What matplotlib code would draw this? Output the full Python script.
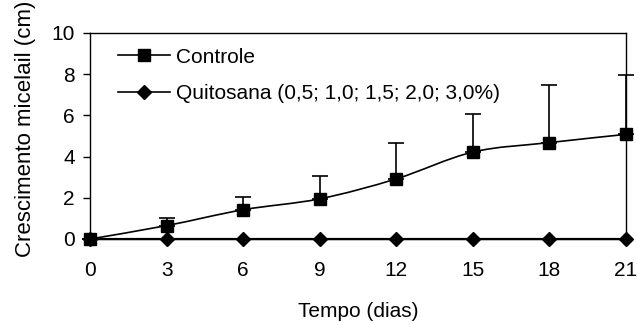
import numpy as np
import matplotlib.pyplot as plt
from matplotlib.path import Path
from matplotlib.patches import PathPatch
from matplotlib.lines import Line2D

plt.rcParams['font.family'] = ['Liberation Sans', 'DejaVu Sans']

dias = [0, 3, 6, 9, 12, 15, 18, 21]
controle = [0.0, 0.65, 1.42, 1.95, 2.92, 4.22, 4.68, 5.08]
controle_erro = [0.0, 0.35, 0.62, 1.12, 1.72, 1.85, 2.78, 2.87]
quitosana = [0, 0, 0, 0, 0, 0, 0, 0]

rotulo_controle = 'Controle'
rotulo_quitosana = 'Quitosana (0,5; 1,0; 1,5; 2,0; 3,0%)'


def smooth_path(x, y):
    # Excel-like smoothed line: Catmull-Rom as cubic Bezier segments
    pts = np.column_stack([x, y]).astype(float)
    ext = np.vstack([pts[0], pts, pts[-1]])
    verts = [pts[0]]
    codes = [Path.MOVETO]
    for i in range(1, len(ext) - 2):
        p0, p1, p2, p3 = ext[i - 1], ext[i], ext[i + 1], ext[i + 2]
        verts += [p1 + (p2 - p0) / 6, p2 - (p3 - p1) / 6, p2]
        codes += [Path.CURVE4] * 3
    return Path(verts, codes)


fig = plt.figure(figsize=(6.38, 3.25), dpi=100)
ax = fig.add_axes([90 / 638, 1 - 239 / 325, 536 / 638, 206 / 325])

lw = 1.2
fs = 15
ax.add_patch(PathPatch(smooth_path(dias, controle), fill=False, lw=lw,
                       color='black', clip_on=False, zorder=3))
ax.errorbar(dias, controle, yerr=[np.zeros(len(dias)), controle_erro],
            fmt='none', ecolor='black', elinewidth=lw, capsize=5.5,
            capthick=lw, clip_on=False, zorder=2)
ax.plot(dias, controle, ls='none', marker='s', ms=8, color='black',
        clip_on=False, zorder=4)
ax.plot(dias, quitosana, ls='-', lw=lw * 1.3, marker='D', ms=7.5, color='black',
        clip_on=False, zorder=4)

ax.set_xlim(0, 21)
ax.set_ylim(0, 10)
ax.set_xticks(dias)
ax.set_yticks([0, 2, 4, 6, 8, 10])
for s in ax.spines.values():
    s.set_linewidth(1.0)
ax.tick_params(axis='x', length=0, pad=16, labelsize=fs)
ax.tick_params(axis='y', direction='out', length=5, width=1.0, pad=6, labelsize=fs)

ax.set_xlabel('Tempo (dias)', fontsize=fs, labelpad=16)
fig.text(26 / 638, 1 - 129 / 325, 'Crescimento micelail (cm)', rotation=90,
         ha='center', va='center', fontsize=16)

handles = [Line2D([], [], color='black', lw=lw, marker='s', ms=8),
           Line2D([], [], color='black', lw=lw, marker='D', ms=7.5)]
ax.legend(handles, [rotulo_controle, rotulo_quitosana], loc='upper left',
          bbox_to_anchor=(0.036, 0.97), frameon=False, fontsize=fs,
          handlelength=2.5, handletextpad=0.3, labelspacing=0.85,
          borderaxespad=0)

fig.savefig('out.png', dpi=100)
